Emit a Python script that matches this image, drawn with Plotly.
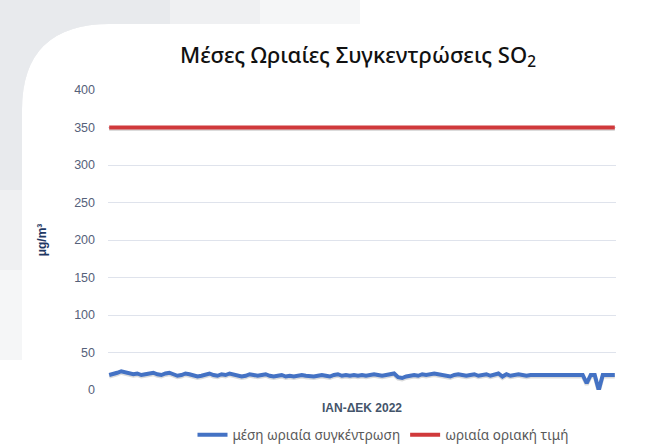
import plotly.graph_objects as go

# ---- data ----
series_name = "μέση ωριαία συγκέντρωση"
limit_name = "ωριαία οριακή τιμή"
limit_value = 350
so2_values = [
    20, 21, 23, 25, 24, 22, 21, 22, 20, 21, 22, 23, 21, 20, 22, 23, 21, 19, 20, 22, 21, 20, 18, 19, 21, 22, 20, 19, 21, 20, 22, 21,
    20, 18, 19, 21, 20, 19, 20, 21, 19, 18, 19, 20, 18, 19, 18, 19, 20, 19, 18, 18, 19, 20, 19, 18, 20, 21, 19, 20, 19, 20, 19,
    20, 19, 20, 21, 20, 19, 20, 21, 22, 17, 16, 18, 19, 20, 19, 21, 20, 21, 22, 21, 20, 19, 18, 20, 21, 20, 19, 20, 21, 19, 20,
    21, 19, 20, 22, 18, 21, 19, 20, 21, 20, 19, 20, 20, 20, 20, 20, 20, 20, 20, 20, 20, 20, 20, 20, 20, 9, 20, 20, 0, 20, 20, 20, 20,
]
y_ticks = [0, 50, 100, 150, 200, 250, 300, 350, 400]
x_title = "ΙΑΝ-ΔΕΚ 2022"
y_title = "μg/m³"
title_text = "Μέσες Ωριαίες Συγκεντρώσεις SO<sub>2</sub>"

x_idx = list(range(len(so2_values)))

W, H = 646, 447
L, R, T, B = 108, 30, 90, 57

def px(x):
    return (x - L) / (W - L - R)

def py(y):
    return (H - B - y) / (H - T - B)

fig = go.Figure()

# soft shadow under the lines
fig.add_trace(go.Scatter(x=x_idx, y=[v - 2 for v in so2_values], mode="lines",
                         line=dict(color="rgba(90,90,90,0.22)", width=4),
                         showlegend=False, hoverinfo="skip"))
fig.add_trace(go.Scatter(x=[x_idx[0], x_idx[-1]], y=[limit_value - 2] * 2, mode="lines",
                         line=dict(color="rgba(90,90,90,0.22)", width=4),
                         showlegend=False, hoverinfo="skip"))

fig.add_trace(go.Scatter(x=x_idx, y=so2_values, mode="lines", name=series_name,
                         line=dict(color="#4472C4", width=4)))
fig.add_trace(go.Scatter(x=[x_idx[0], x_idx[-1]], y=[limit_value] * 2, mode="lines",
                         name=limit_name, line=dict(color="#D0393B", width=4)))

# card background: grey top-left corner outside the rounded card (stepped fade)
shapes = []
for (ext_x, ext_y, col) in [(360, 360, "#f5f6f7"), (260, 270, "#eff0f2"), (170, 190, "#e8eaed")]:
    path = (f"M {px(0)},{py(0)} L {px(ext_x)},{py(0)} L {px(ext_x)},{py(24)} "
            f"L {px(110)},{py(24)} Q {px(22)},{py(24)} {px(22)},{py(110)} "
            f"L {px(22)},{py(ext_y)} L {px(0)},{py(ext_y)} Z")
    shapes.append(dict(type="path", path=path, xref="paper", yref="paper",
                       fillcolor=col, line=dict(width=0), layer="below"))

fig.update_layout(
    width=W, height=H,
    margin=dict(l=L, r=R, t=T, b=B, autoexpand=False),
    paper_bgcolor="white", plot_bgcolor="white",
    shapes=shapes,
    title=dict(text=title_text, xref="container", x=358 / W, xanchor="center",
               yref="container", y=1 - 55 / H, yanchor="middle",
               font=dict(family="Noto Sans", size=22, color="#111111", weight=500)),
    xaxis=dict(range=[x_idx[0] - 0.3, x_idx[-1] + 0.3], showticklabels=False, showgrid=False,
               zeroline=False, showline=False, ticks="", automargin=False,
               title=dict(text=f"<b>{x_title}</b>", standoff=13,
                          font=dict(family="Liberation Sans", size=12, color="#44546A"))),
    yaxis=dict(range=[0, 400], tickvals=y_ticks, showgrid=True, gridcolor="#dfe3ec", gridwidth=1,
               zeroline=False, showline=False, ticks="", ticklabelstandoff=12, automargin=False,
               tickfont=dict(family="Liberation Sans", size=12.5, color="#56617a"),
               title=dict(text=f"<b>{y_title}</b>", standoff=24,
                          font=dict(family="Liberation Sans", size=12, color="#1F3864"))),
    legend=dict(orientation="h", x=px(383), xanchor="center", y=py(435), yanchor="middle",
                font=dict(family="Noto Sans", size=13.5, color="#595959"),
                bgcolor="rgba(0,0,0,0)"),
    showlegend=True,
)

fig.write_html("out.html", config={"displayModeBar": False},
               post_script="document.body.style.margin='0';")
